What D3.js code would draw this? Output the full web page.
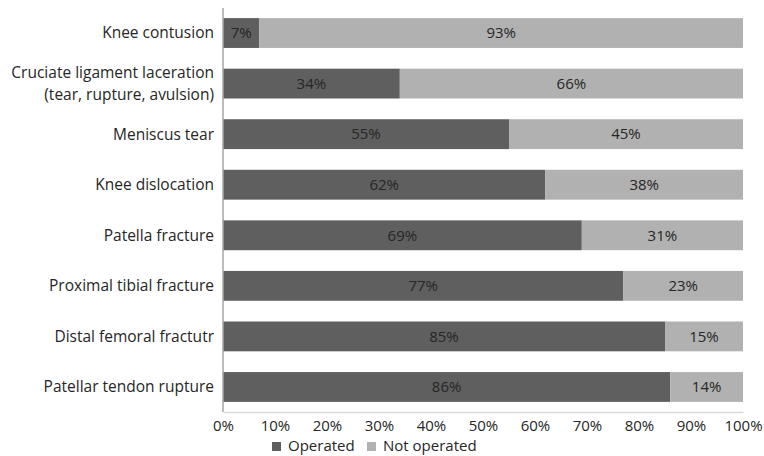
<!DOCTYPE html>
<html><head><meta charset="utf-8">
<script src="https://cdn.jsdelivr.net/npm/d3@7"></script>
<style>html,body{margin:0;padding:0;background:#fff;overflow:hidden}</style>
</head><body>
<svg id="c" width="764" height="456"></svg>
<script>
const categories = ["Knee contusion", "Cruciate ligament laceration\n(tear, rupture, avulsion)", "Meniscus tear", "Knee dislocation", "Patella fracture", "Proximal tibial fracture", "Distal femoral fractutr", "Patellar tendon rupture"];
const operated = [7, 34, 55, 62, 69, 77, 85, 86];
const notOperated = [93, 66, 45, 38, 31, 23, 15, 14];
const seriesNames = ["Operated", "Not operated"];
const tickValues = [0,10,20,30,40,50,60,70,80,90,100];
const colors = ["#5f5f5f", "#b1b1b1"];
const font = "Open Sans, sans-serif";

const svg = d3.select("#c");
const m = {left: 223, right: 21, top: 8, bottom: 44};
const W = 764, H = 456;
const x = d3.scaleLinear().domain([0, 100]).range([m.left, W - m.right]);
const y = d3.scaleBand().domain(categories).range([m.top, H - m.bottom]).paddingInner(0.41).paddingOuter(0.2);

const data = categories.map((c, i) => ({cat: c, Operated: operated[i], "Not operated": notOperated[i]}));
const stack = d3.stack().keys(seriesNames)(data);

const g = svg.append("g");
stack.forEach((s, si) => {
  g.selectAll(null).data(s).enter().append("rect")
    .attr("x", d => x(d[0])).attr("width", d => x(d[1]) - x(d[0]))
    .attr("y", d => y(d.data.cat)).attr("height", y.bandwidth())
    .attr("fill", colors[si]);
  g.selectAll(null).data(s).enter().append("text")
    .attr("x", d => (x(d[0]) + x(d[1])) / 2)
    .attr("y", d => y(d.data.cat) + y.bandwidth() / 2)
    .attr("dy", "0.35em").attr("text-anchor", "middle")
    .attr("font-family", font).attr("font-size", 15).attr("fill", "#262626")
    .text(d => (d[1] - d[0]) + "%");
});

// y axis line
svg.append("line").attr("x1", m.left).attr("x2", m.left).attr("y1", m.top).attr("y2", H - m.bottom)
  .attr("stroke", "#a6a6a6").attr("stroke-width", 1.5);
// x axis
const xa = svg.append("g").attr("transform", `translate(0,${H - m.bottom})`)
  .call(d3.axisBottom(x).tickValues(tickValues).tickFormat(d => d + "%").tickSize(0).tickPadding(8));
xa.select(".domain").attr("stroke", "#d9d9d9").attr("stroke-width", 1.5);
xa.selectAll("text").attr("font-family", font).attr("font-size", 15).attr("fill", "#262626");

// category labels
categories.forEach(c => {
  const lines = c.split("\n");
  const cy = y(c) + y.bandwidth() / 2;
  const t = svg.append("text").attr("text-anchor", "end").attr("font-family", font)
    .attr("font-size", 15.5).attr("fill", "#262626");
  lines.forEach((l, i) => {
    t.append("tspan").attr("x", m.left - 9)
      .attr("y", cy + (i - (lines.length - 1) / 2) * 22).attr("dy", "0.35em").text(l);
  });
});

// legend
const lg = svg.append("g").attr("transform", "translate(272,446)");
const lx = [0, 95];
seriesNames.forEach((s, i) => {
  lg.append("rect").attr("x", lx[i]).attr("y", -4).attr("width", 9).attr("height", 9).attr("fill", colors[i]);
  lg.append("text").attr("x", lx[i] + 16).attr("y", 0).attr("dy", "0.35em")
    .attr("font-family", font).attr("font-size", 15).attr("fill", "#262626").text(s);
});
</script>
</body></html>
